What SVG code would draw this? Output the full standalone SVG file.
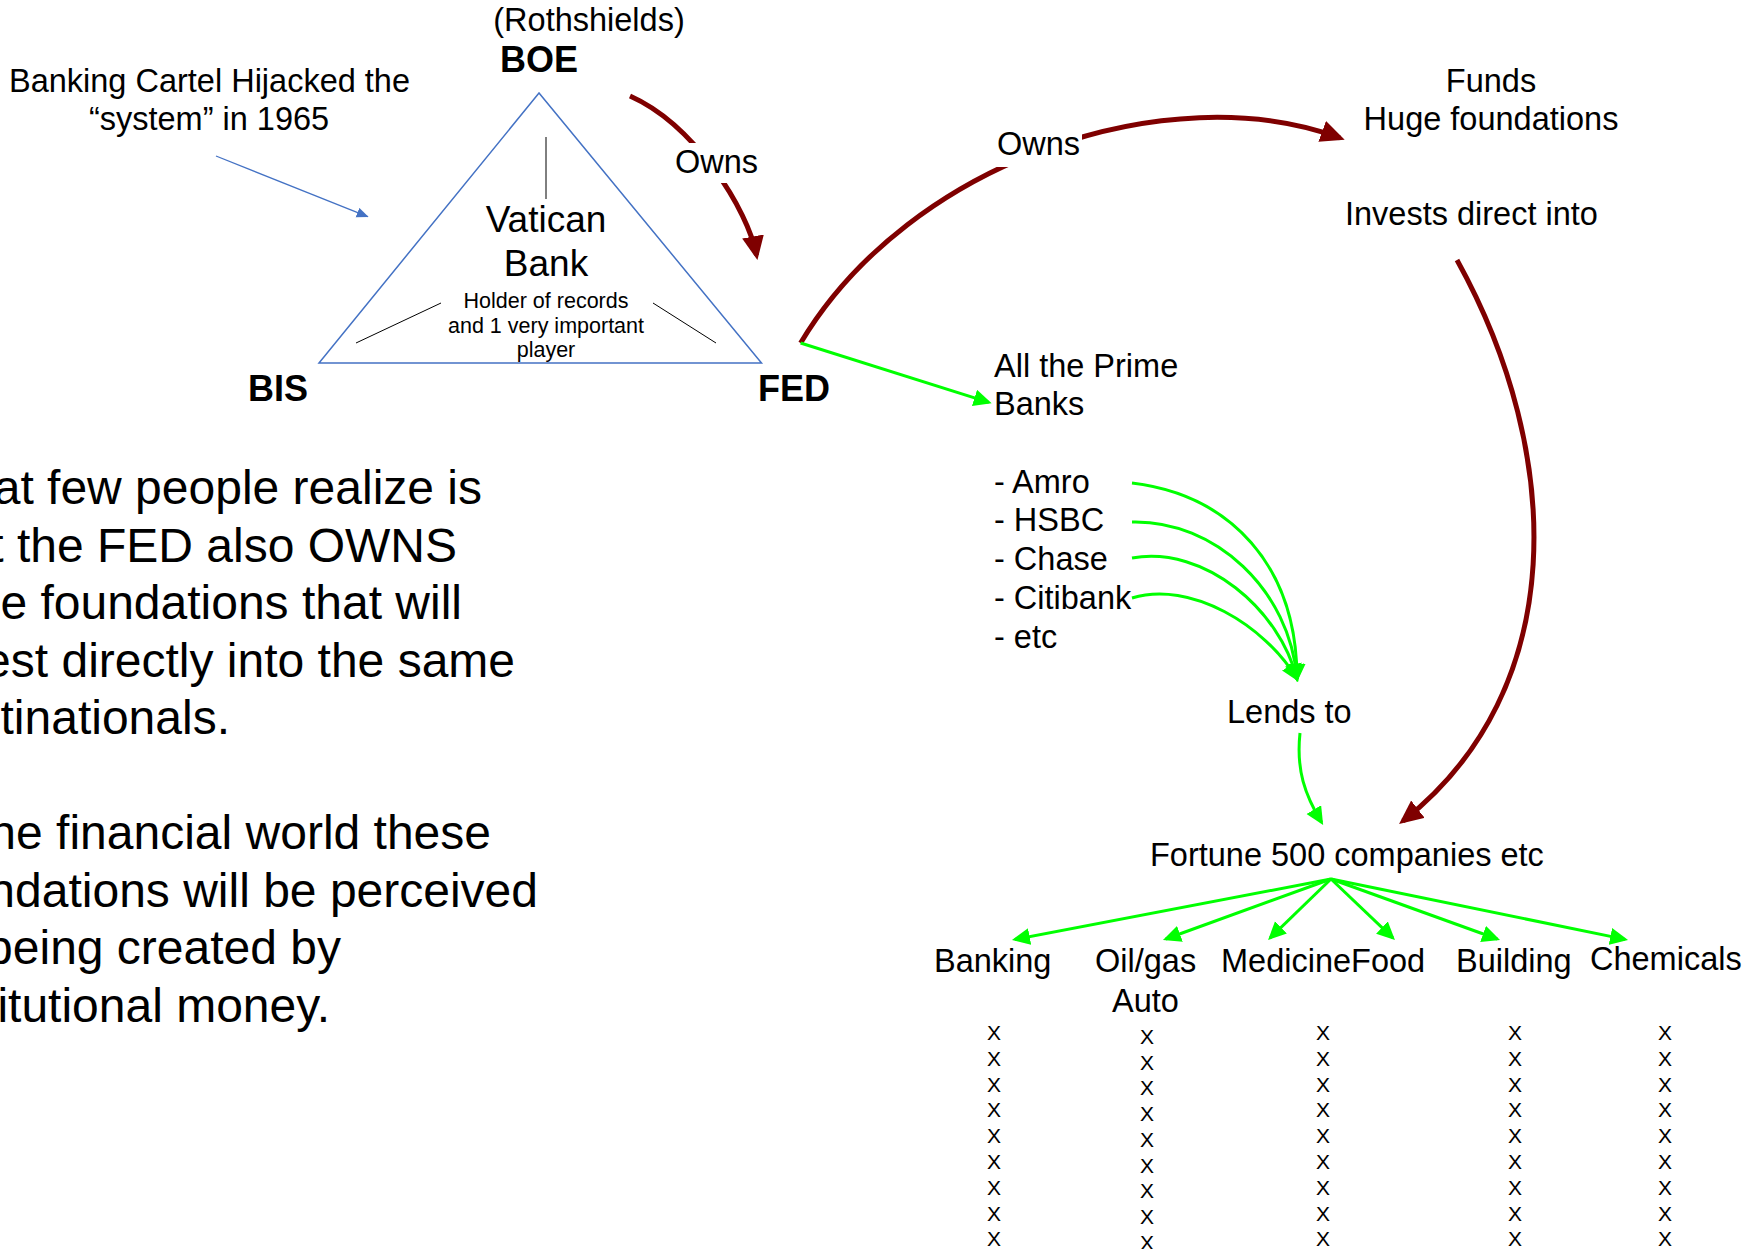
<svg xmlns="http://www.w3.org/2000/svg" width="1758" height="1249" viewBox="0 0 1758 1249">
<style>
text{font-family:"Liberation Sans",Arial,sans-serif;fill:#000}
.t32{font-size:32.5px}
.b36{font-size:36px;font-weight:bold}
.mid{text-anchor:middle}
.end{text-anchor:end}
.para{font-size:48px;text-anchor:end}
.xx{font-size:21px;text-anchor:middle}
.red{fill:none;stroke:#7f0000;stroke-width:5}
.grn{fill:none;stroke:#00ff00;stroke-width:3}
.blu{fill:none;stroke:#4472c4;stroke-width:1.3}
.thin{stroke:#000;stroke-width:1}
</style>
<defs>
<marker id="ar" markerUnits="userSpaceOnUse" markerWidth="26" markerHeight="24" refX="19" refY="11" orient="auto"><path d="M0,0 L24,11 L0,22 z" fill="#7f0000"/></marker>
<marker id="ag" markerUnits="userSpaceOnUse" markerWidth="20" markerHeight="18" refX="15" refY="8.5" orient="auto"><path d="M0,0 L18,8.5 L0,17 z" fill="#00ff00"/></marker>
<marker id="ab" markerUnits="userSpaceOnUse" markerWidth="14" markerHeight="12" refX="11" refY="5" orient="auto"><path d="M0,0 L12,5 L0,10 z" fill="#4472c4"/></marker>
</defs>
<rect width="1758" height="1249" fill="#fff"/>

<g id="connectors">
<path class="blu" d="M216,156 L367.7,216.6" marker-end="url(#ab)"/>
<path class="red" d="M630,96 C695,125 748,210 756.5,255.2" marker-end="url(#ar)"/>
<path class="red" d="M800.6,343 C910,160 1170,75 1340,138" marker-end="url(#ar)"/>
<path class="red" d="M1457,260 C1565,455 1570,690 1403,821" marker-end="url(#ar)"/>
<path class="grn" d="M800.6,343 L988.8,402.4" marker-end="url(#ag)"/>
<path class="grn" d="M1132,483 C1230,495 1297,565 1297,679" marker-end="url(#ag)"/>
<path class="grn" d="M1132,522 C1215,520 1290,590 1297,679" marker-end="url(#ag)"/>
<path class="grn" d="M1132,558 C1205,545 1280,610 1297,679" marker-end="url(#ag)"/>
<path class="grn" d="M1132,598 C1190,580 1265,625 1297,679" marker-end="url(#ag)"/>
<path class="grn" d="M1300,733 C1296,770 1305,795 1321.6,822.4" marker-end="url(#ag)"/>
<path class="grn" d="M1331,879 L1014.9,939.4" marker-end="url(#ag)"/>
<path class="grn" d="M1331,879 L1165.8,939" marker-end="url(#ag)"/>
<path class="grn" d="M1331,879 L1270.2,937.9" marker-end="url(#ag)"/>
<path class="grn" d="M1331,879 L1392.8,937.9" marker-end="url(#ag)"/>
<path class="grn" d="M1331,879 L1497.2,939" marker-end="url(#ag)"/>
<path class="grn" d="M1331,879 L1625.1,939.4" marker-end="url(#ag)"/>
</g>

<g id="owns1">
<rect x="668" y="143" width="92" height="40" fill="#fff"/>
<text class="t32" x="675" y="173">Owns</text>
</g>
<g id="owns2">
<rect x="992" y="127" width="90" height="40" fill="#fff"/>
<text class="t32" x="997" y="155">Owns</text>
</g>

<g id="note-cartel">
<text class="t32 mid" x="209.5" y="92">Banking Cartel Hijacked the</text>
<text class="t32 mid" x="209" y="130">“system” in 1965</text>
</g>

<g id="triangle">
<path d="M539,93 L319,363 L761.5,363 Z" fill="none" stroke="#4472c4" stroke-width="1.5"/>
<line class="thin" x1="546" y1="137" x2="546" y2="199"/>
<line class="thin" x1="356" y1="343" x2="441" y2="303"/>
<line class="thin" x1="653" y1="303" x2="716" y2="343"/>
</g>

<g id="vatican">
<text class="mid" style="font-size:37px" x="546" y="232">Vatican</text>
<text class="mid" style="font-size:37px" x="546" y="276">Bank</text>
<text class="mid" style="font-size:21.5px" x="546" y="308">Holder of records</text>
<text class="mid" style="font-size:21.5px" x="546" y="333">and 1 very important</text>
<text class="mid" style="font-size:21.5px" x="546" y="357">player</text>
</g>

<g id="boe">
<text class="t32 mid" x="589" y="31">(Rothshields)</text>
<text class="b36" x="500" y="72">BOE</text>
</g>
<g id="bis"><text class="b36" x="248" y="401">BIS</text></g>
<g id="fed"><text class="b36" x="758" y="401">FED</text></g>

<g id="funds">
<text class="t32 mid" x="1491" y="92">Funds</text>
<text class="t32 mid" x="1491" y="130">Huge foundations</text>
</g>
<g id="invests"><text class="t32" x="1345" y="225">Invests direct into</text></g>

<g id="prime-banks">
<text class="t32" x="994" y="377">All the Prime</text>
<text class="t32" x="994" y="415">Banks</text>
</g>
<g id="bank-list">
<text class="t32" x="994" y="493">- Amro</text>
<text class="t32" x="994" y="531">- HSBC</text>
<text class="t32" x="994" y="570">- Chase</text>
<text class="t32" x="994" y="609">- Citibank</text>
<text class="t32" x="994" y="648">- etc</text>
</g>
<g id="lends"><text class="t32" x="1227" y="723">Lends to</text></g>
<g id="fortune"><text class="t32" x="1150" y="866">Fortune 500 companies etc</text></g>

<g id="banking">
<text class="t32" x="934" y="972">Banking</text>
<text class="xx" x="994" y="1040">X</text><text class="xx" x="994" y="1066">X</text><text class="xx" x="994" y="1092">X</text><text class="xx" x="994" y="1117">X</text><text class="xx" x="994" y="1143">X</text><text class="xx" x="994" y="1169">X</text><text class="xx" x="994" y="1195">X</text><text class="xx" x="994" y="1221">X</text><text class="xx" x="994" y="1246">X</text>
</g>
<g id="oilgas">
<text class="t32" x="1095" y="972">Oil/gas</text>
<text class="t32" x="1112" y="1012">Auto</text>
<text class="xx" x="1147" y="1043.5">X</text><text class="xx" x="1147" y="1069.5">X</text><text class="xx" x="1147" y="1095">X</text><text class="xx" x="1147" y="1121">X</text><text class="xx" x="1147" y="1147">X</text><text class="xx" x="1147" y="1172.5">X</text><text class="xx" x="1147" y="1198">X</text><text class="xx" x="1147" y="1224">X</text><text class="xx" x="1147" y="1250">X</text>
</g>
<g id="medicinefood">
<text class="t32" x="1221" y="972">MedicineFood</text>
<text class="xx" x="1323" y="1040">X</text><text class="xx" x="1323" y="1066">X</text><text class="xx" x="1323" y="1092">X</text><text class="xx" x="1323" y="1117">X</text><text class="xx" x="1323" y="1143">X</text><text class="xx" x="1323" y="1169">X</text><text class="xx" x="1323" y="1195">X</text><text class="xx" x="1323" y="1221">X</text><text class="xx" x="1323" y="1246">X</text>
</g>
<g id="building">
<text class="t32" x="1456" y="972">Building</text>
<text class="xx" x="1515" y="1040">X</text><text class="xx" x="1515" y="1066">X</text><text class="xx" x="1515" y="1092">X</text><text class="xx" x="1515" y="1117">X</text><text class="xx" x="1515" y="1143">X</text><text class="xx" x="1515" y="1169">X</text><text class="xx" x="1515" y="1195">X</text><text class="xx" x="1515" y="1221">X</text><text class="xx" x="1515" y="1246">X</text>
</g>
<g id="chemicals">
<text class="t32" x="1590" y="970">Chemicals</text>
<text class="xx" x="1665" y="1040">X</text><text class="xx" x="1665" y="1066">X</text><text class="xx" x="1665" y="1092">X</text><text class="xx" x="1665" y="1117">X</text><text class="xx" x="1665" y="1143">X</text><text class="xx" x="1665" y="1169">X</text><text class="xx" x="1665" y="1195">X</text><text class="xx" x="1665" y="1221">X</text><text class="xx" x="1665" y="1246">X</text>
</g>

<g id="paragraph">
<text class="para" x="482" y="504">at few people realize is</text>
<text class="para" x="457" y="561.5">t the FED also OWNS</text>
<text class="para" x="462" y="619">e foundations that will</text>
<text class="para" x="515" y="676.5">est directly into the same</text>
<text class="para" x="230" y="734">tinationals.</text>
<text class="para" x="491" y="849">he financial world these</text>
<text class="para" x="538" y="906.5">ndations will be perceived</text>
<text class="para" x="341" y="964">being created by</text>
<text class="para" x="330" y="1021.5">itutional money.</text>
</g>
</svg>
